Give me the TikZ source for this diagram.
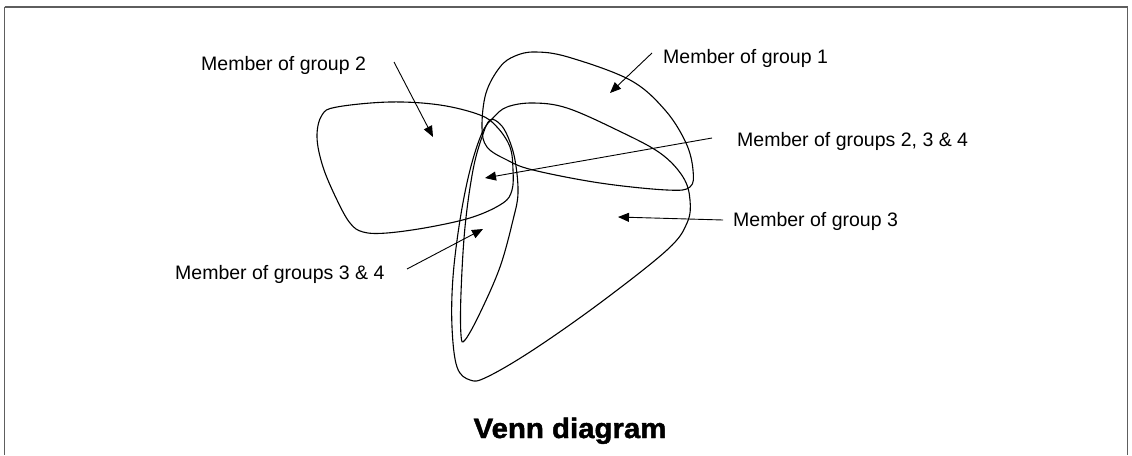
\documentclass[tikz,border=0pt]{standalone}
\usepackage{fontspec}
\setmainfont{Liberation Sans}
\newfontfamily\titlefont[FakeStretch=1.05, BoldFeatures={FakeBold=1.6}]{Liberation Sans}
\usetikzlibrary{arrows.meta}
\definecolor{framegray}{HTML}{5E5E5E}
\tikzset{
  setline/.style={line width=1.1pt, black},
  pointer/.style={line width=0.9pt, -{Triangle[length=11pt,width=9pt]}},
  lbl/.style={anchor=base west, inner sep=0pt, font=\fontsize{19.5}{22}\selectfont},
  frameline/.style={draw=framegray}
}
\begin{document}
\begin{tikzpicture}[x=1pt,y=-1pt]
\useasboundingbox (0,0) rectangle (1132,455);
% frame
\draw[frameline, line width=2pt] (4.5,6.5) -- (1127.5,6.5);
\draw[frameline, line width=1.3pt] (4.5,6.5) -- (4.5,455);
\draw[frameline, line width=1.3pt] (1127.5,6.5) -- (1127.5,455);

% group 2
\draw[setline] plot[smooth cycle, tension=0.6] coordinates {
  (317,137) (322,115) (337,107) (390,102) (440,105) (480,115) (497,127)
  (510,147) (513,170) (512,190) (503,203) (473,217) (430,227) (387,233)
  (363,232) (350,223) (337,200) (323,167)};
% group 1
\draw[setline] plot[smooth cycle, tension=0.6] coordinates {
  (535,52) (568,57) (630,80) (665,110) (686,143) (693,170) (690,187)
  (667,190) (600,183) (533,170) (507,160) (487,147) (482,127) (486,93)
  (500,67) (515,56)};
% group 3
\draw[setline] plot[smooth cycle, tension=0.6] coordinates {
  (507,107) (533,103) (567,108) (617,130) (660,153) (683,177) (690,200)
  (687,223) (667,250) (600,303) (533,350) (487,377) (470,380) (457,367)
  (452,327) (453,277) (460,220) (470,170) (482,133) (493,118)};
% group 4
\draw[setline] plot[smooth cycle, tension=0.6] coordinates {
  (490,120) (500,124) (508,137) (515,160) (518,193) (513,220) (500,267)
  (480,313) (465,340) (461,335) (461,293) (465,227) (473,170) (482,137)};

% labels
\node[lbl] (l2) at (201,70) {Member of group 2};
\node[lbl] (l1) at (663,63) {Member of group 1};
\node[lbl] (l234) at (737,146) {Member of groups 2, 3 \& 4};
\node[lbl] (l3) at (733,226) {Member of group 3};
\node[lbl] (l34) at (175,279) {Member of groups 3 \& 4};
\node[anchor=base, inner sep=0pt, font=\titlefont\fontsize{28}{32}\selectfont\bfseries] (title) at (570,438) {Venn diagram};

% arrow ends
\coordinate (s2) at (394,62);   \coordinate (t2) at (433,137);
\coordinate (s1) at (652,53);   \coordinate (t1) at (610,93);
\coordinate (s234) at (712,138); \coordinate (t234) at (485,178);
\coordinate (s3) at (723,220);  \coordinate (t3) at (618,217);
\coordinate (s34) at (407,269); \coordinate (t34) at (483,229);

\draw[pointer] (s2) -- (t2);
\draw[pointer] (s1) -- (t1);
\draw[pointer] (s234) -- (t234);
\draw[pointer] (s3) -- (t3);
\draw[pointer] (s34) -- (t34);
\end{tikzpicture}
\end{document}
